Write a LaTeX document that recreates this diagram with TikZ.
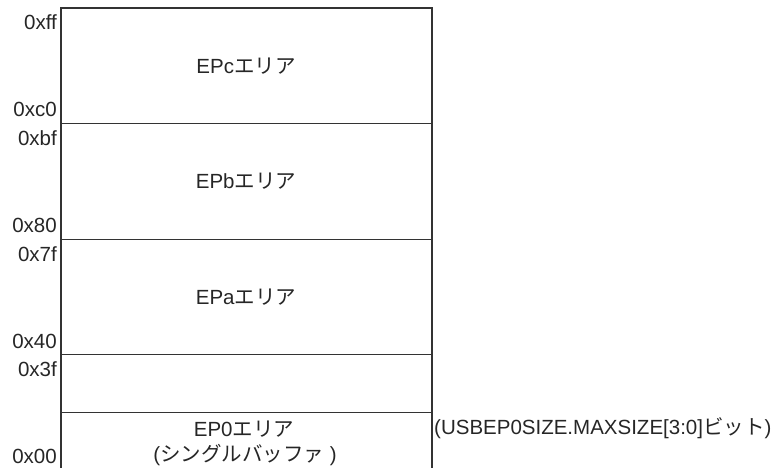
\documentclass[tikz,border=0pt]{standalone}
\usepackage{fontspec}
\setmainfont{Liberation Sans}
\newfontfamily\cjk{Noto Sans CJK JP}
\begin{document}
\begin{tikzpicture}[x=1pt,y=-1pt,
  every node/.style={font=\fontsize{20.5}{24}\selectfont, inner sep=0pt, text=black!85},
  addr/.style={anchor=base east},
  area/.style={anchor=center, align=center},
  boxline/.style={draw=black!80, line width=1.1pt}]
\useasboundingbox (0,0) rectangle (782,468);
% box outline
\coordinate (tl) at (61,8);
\coordinate (tr) at (432,8);
\coordinate (bl) at (61,470);
\coordinate (br) at (432,470);
\draw[boxline] (bl) -- (tl) -- (tr) -- (br);
% dividers
\foreach \y/\n in {123.7/a,239.3/b,354.7/c,412.3/d}{
  \coordinate (l\n) at (61,\y);
  \coordinate (r\n) at (432,\y);
  \draw[boxline] (l\n) -- (r\n);
}
% addresses
\node[addr] (aff) at (57,30) {0xff};
\node[addr] (ac0) at (57,117) {0xc0};
\node[addr] (abf) at (57,146) {0xbf};
\node[addr] (a80) at (57,232) {0x80};
\node[addr] (a7f) at (57,261) {0x7f};
\node[addr] (a40) at (57,348) {0x40};
\node[addr] (a3f) at (57,376) {0x3f};
\node[addr] (a00) at (57,463) {0x00};
% areas
\node[area] (epc) at (246,66) {EPc{\cjk エリア}};
\node[area] (epb) at (246,181) {EPb{\cjk エリア}};
\node[area] (epa) at (246,297) {EPa{\cjk エリア}};
\node[area] (ep0) at (244,429) {EP0{\cjk エリア}};
\node[area] (ep0s) at (245,455) {({\cjk シングルバッファ} )};
\node[anchor=west] (size) at (434,428) {(USBEP0SIZE.MAXSIZE[3:0]{\cjk ビット})};
\end{tikzpicture}
\end{document}
